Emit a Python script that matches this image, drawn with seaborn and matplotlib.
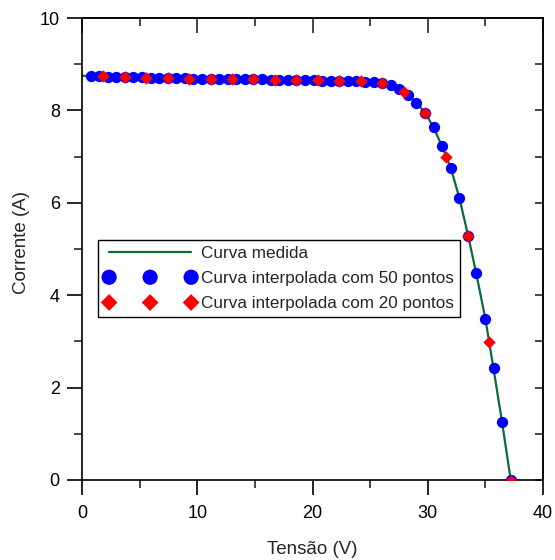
import matplotlib
matplotlib.use("Agg")
import matplotlib.pyplot as plt
from matplotlib.ticker import MultipleLocator
import pandas as pd
import seaborn as sns

# Measured I-V curve of the module
v_medida = [0.0, 2.0, 4.0, 6.0, 8.0, 10.0, 12.0, 14.0, 16.0, 18.0, 20.0, 22.0,
            24.0, 25.0, 26.0, 26.8, 27.5, 28.3, 29.0, 29.8, 30.5, 31.25, 32.0,
            32.75, 33.5, 34.2, 35.0, 35.7, 36.45, 37.2]
i_medida = [8.75, 8.74, 8.72, 8.71, 8.70, 8.69, 8.68, 8.67, 8.67, 8.66, 8.65, 8.64,
            8.63, 8.62, 8.60, 8.54, 8.46, 8.34, 8.17, 7.94, 7.63, 7.22, 6.75,
            6.10, 5.29, 4.48, 3.49, 2.42, 1.25, 0.00]

# Curve interpolated with 50 points
v_50 = [0.74, 1.49, 2.23, 2.98, 3.72, 4.46, 5.21, 5.95, 6.70, 7.44,
        8.18, 8.93, 9.67, 10.42, 11.16, 11.90, 12.65, 13.39, 14.14, 14.88,
        15.62, 16.37, 17.11, 17.86, 18.60, 19.34, 20.09, 20.83, 21.58, 22.32,
        23.06, 23.81, 24.55, 25.30, 26.04, 26.78, 27.53, 28.27, 29.02, 29.76,
        30.50, 31.25, 31.99, 32.74, 33.48, 34.22, 34.97, 35.71, 36.46, 37.20]
i_50 = [8.74, 8.74, 8.73, 8.73, 8.72, 8.72, 8.72, 8.71, 8.71, 8.70,
        8.70, 8.70, 8.69, 8.69, 8.69, 8.68, 8.68, 8.68, 8.67, 8.67,
        8.67, 8.66, 8.66, 8.66, 8.65, 8.65, 8.65, 8.64, 8.64, 8.64,
        8.63, 8.63, 8.62, 8.61, 8.60, 8.54, 8.46, 8.34, 8.17, 7.94,
        7.63, 7.22, 6.75, 6.10, 5.29, 4.48, 3.49, 2.42, 1.25, 0.00]

# Curve interpolated with 20 points
v_20 = [1.86, 3.72, 5.58, 7.44, 9.30, 11.16, 13.02, 14.88, 16.74, 18.60,
        20.46, 22.32, 24.18, 26.04, 27.90, 29.76, 31.62, 33.48, 35.34, 37.20]
i_20 = [8.74, 8.72, 8.71, 8.70, 8.69, 8.69, 8.68, 8.67, 8.66, 8.65,
        8.65, 8.64, 8.63, 8.60, 8.39, 7.94, 6.99, 5.29, 2.99, -0.02]

rotulos = ["Curva medida",
           "Curva interpolada com 50 pontos",
           "Curva interpolada com 20 pontos"]

sns.set_style("ticks")
plt.rcParams["font.family"] = ["Liberation Sans", "DejaVu Sans"]
plt.rcParams["axes.linewidth"] = 1.2

df_med = pd.DataFrame({"V": v_medida, "I": i_medida})
df_50 = pd.DataFrame({"V": v_50, "I": i_50})
df_20 = pd.DataFrame({"V": v_20, "I": i_20})

fig = plt.figure(figsize=(5.55, 5.6), dpi=100)
ax = fig.add_axes([82 / 555, 80 / 560, 461 / 555, 462 / 560])

sns.lineplot(data=df_med, x="V", y="I", ax=ax, color="#0b6b38", linewidth=1.6,
             label=rotulos[0], sort=False, zorder=2)
sns.scatterplot(data=df_50, x="V", y="I", ax=ax, color="#0000ff", marker="o",
                s=66, linewidth=0, label=rotulos[1], zorder=3)
sns.scatterplot(data=df_20, x="V", y="I", ax=ax, color="#ff0000", marker="D",
                s=40, linewidth=0, label=rotulos[2], zorder=4)

ax.set_xlim(0, 40)
ax.set_ylim(0, 10)
ax.xaxis.set_major_locator(MultipleLocator(10))
ax.xaxis.set_minor_locator(MultipleLocator(5))
ax.yaxis.set_major_locator(MultipleLocator(2))
ax.yaxis.set_minor_locator(MultipleLocator(1))
ax.tick_params(which="major", direction="out", length=11, width=1.2,
               labelsize=13, colors="black")
ax.tick_params(which="minor", direction="out", length=5.5, width=1.2)
ax.tick_params(axis="x", which="major", pad=7)
ax.tick_params(axis="y", which="major", pad=5)
for s in ax.spines.values():
    s.set_visible(True)
    s.set_color("black")
    s.set_linewidth(1.2)

# Inward ticks on the top and right frame edges
top = ax.secondary_xaxis("top")
top.xaxis.set_major_locator(MultipleLocator(10))
top.xaxis.set_minor_locator(MultipleLocator(5))
top.tick_params(which="major", direction="in", length=11, width=1.2, labeltop=False)
top.tick_params(which="minor", direction="in", length=5.5, width=1.2)
right = ax.secondary_yaxis("right")
right.yaxis.set_major_locator(MultipleLocator(2))
right.yaxis.set_minor_locator(MultipleLocator(1))
right.tick_params(which="major", direction="in", length=5.5, width=1.2, labelright=False)
right.tick_params(which="minor", direction="in", length=5.5, width=1.2)

ax.set_xlabel("Tensão (V)", fontsize=13.5, labelpad=14)
ax.set_ylabel("Corrente (A)", fontsize=13.5)
ax.yaxis.set_label_coords(-0.113, 0.513)

leg = ax.legend(loc="upper left", bbox_to_anchor=(16 / 461, 240 / 462),
                numpoints=2, scatterpoints=3, scatteryoffsets=[0.5],
                markerscale=1.35, handlelength=5.4, handletextpad=0.3,
                fontsize=12.3, frameon=True, fancybox=False, framealpha=1,
                borderpad=0.35, labelspacing=0.6, borderaxespad=0)
leg.get_frame().set_edgecolor("black")
leg.get_frame().set_linewidth(1.0)

fig.savefig("out.png", dpi=100)
